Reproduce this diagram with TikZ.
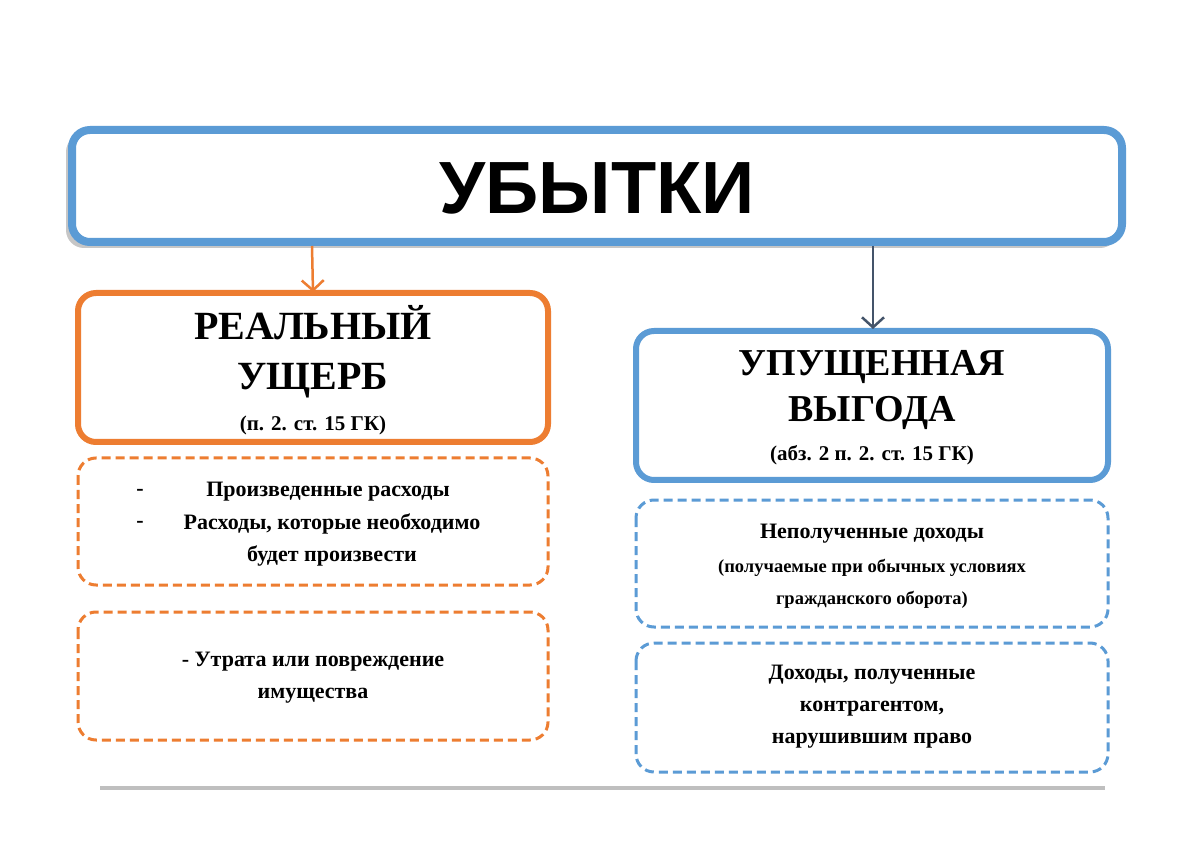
\documentclass[tikz,border=0pt]{standalone}
\usepackage{fontspec}
\setmainfont{Liberation Serif}
\newfontfamily\titlefont{Liberation Sans}
\usetikzlibrary{arrows.meta}
\definecolor{orng}{RGB}{237,125,49}
\definecolor{blu}{RGB}{91,155,213}
\definecolor{dark}{RGB}{68,84,106}
\begin{document}
\begin{tikzpicture}[x=1pt,y=-1pt,
  solidbox/.style={line width=6pt,rounded corners=18pt},
  dashbox/.style={line width=3pt,dash pattern=on 9pt off 5pt,rounded corners=18pt},
  arr/.style={line width=2.5pt,-{Straight Barb[length=10pt,width=22pt,line width=2.5pt]}},
  txt/.style={font=\bfseries,align=center,inner sep=0pt}]
\useasboundingbox (0,0) rectangle (1200,866);
\fill[white] (0,0) rectangle (1200,866);
\fill[gray!45,rounded corners=18pt] (66,134) rectangle (1118,248);
\draw[draw=blu,fill=white,line width=8pt,rounded corners=18pt] (72,130) rectangle (1122,242);
\node[txt,font=\titlefont\bfseries\fontsize{74}{74}\selectfont] (t) at (597,188) {УБЫТКИ};
\coordinate (ta) at (312,246); \coordinate (tb) at (873,246);
\draw[solidbox,draw=orng,fill=white] (78,293) rectangle (548,442);
\node (o) at (313,292) {};
\draw[solidbox,draw=blu,fill=white] (636,331) rectangle (1108,480);
\node (b) at (873,329) {};
\draw[orng,arr] (ta) -- (o.center);
\draw[dark,arr] (tb) -- (b.center);
\node[txt,font=\bfseries\fontsize{40}{50}\selectfont] at (313,352) {РЕАЛЬНЫЙ\\УЩЕРБ};
\node[txt,font=\bfseries\fontsize{21}{21}\selectfont] at (313,425) {(п. 2. ст. 15 ГК)};
\node[txt,font=\bfseries\fontsize{38}{46}\selectfont] at (872,390) {УПУЩЕННАЯ\\ВЫГОДА};
\node[txt,font=\bfseries\fontsize{21}{21}\selectfont] at (872,455) {(абз. 2 п. 2. ст. 15 ГК)};
\draw[dashbox,draw=orng] (78,458) rectangle (548,585);
\draw[dashbox,draw=orng] (78,612) rectangle (548,740);
\draw[dashbox,draw=blu] (636,500) rectangle (1108,627);
\draw[dashbox,draw=blu] (636,643) rectangle (1108,772);
\begin{scope}[every node/.style={txt,font=\bfseries\fontsize{22}{32}\selectfont}]
\node at (140,492) {-};
\node at (140,524) {-};
\node at (328,492) {Произведенные расходы};
\node at (332,540) {Расходы, которые необходимо\\будет произвести};
\node at (313,678) {- Утрата или повреждение\\имущества};
\node at (872,534) {Неполученные доходы};
\node at (872,707) {Доходы, полученные\\контрагентом,\\нарушившим право};
\end{scope}
\node[txt,font=\bfseries\fontsize{18.5}{32}\selectfont] at (872,584) {(получаемые при обычных условиях\\гражданского оборота)};
\draw[gray!50,line width=4pt] (100,788) -- (1105,788);
\end{tikzpicture}
\end{document}
